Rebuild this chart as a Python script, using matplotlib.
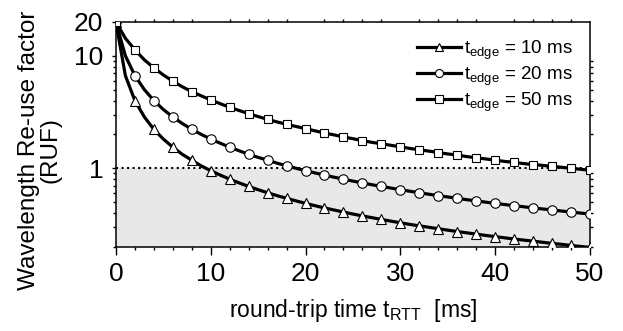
import numpy as np
import matplotlib as mpl; mpl.use('agg')
import matplotlib.pyplot as plt
from matplotlib.ticker import FixedLocator, FixedFormatter, NullFormatter

plt.rcParams['font.family'] = 'Liberation Sans'
plt.rcParams['mathtext.default'] = 'regular'

# round-trip time [ms], one value per ms (markers every 2 ms)
t_rtt = list(range(0, 51))

# RUF for each t_edge
ruf_10 = [20, 6.67, 4.0, 2.86, 2.22, 1.82, 1.54, 1.33, 1.18, 1.05,
          0.952, 0.870, 0.800, 0.741, 0.690, 0.645, 0.606, 0.571, 0.541, 0.513,
          0.488, 0.465, 0.444, 0.426, 0.408, 0.392, 0.377, 0.364, 0.351, 0.339,
          0.328, 0.317, 0.308, 0.299, 0.290, 0.282, 0.274, 0.267, 0.260, 0.253,
          0.247, 0.241, 0.235, 0.230, 0.225, 0.220, 0.215, 0.211, 0.206, 0.202,
          0.198]
ruf_20 = [20, 10, 6.67, 5.0, 4.0, 3.33, 2.86, 2.5, 2.22, 2.0,
          1.82, 1.67, 1.54, 1.43, 1.33, 1.25, 1.18, 1.11, 1.05, 1.0,
          0.952, 0.909, 0.870, 0.833, 0.800, 0.769, 0.741, 0.714, 0.690, 0.667,
          0.645, 0.625, 0.606, 0.588, 0.571, 0.556, 0.541, 0.526, 0.513, 0.500,
          0.488, 0.476, 0.465, 0.455, 0.444, 0.435, 0.426, 0.417, 0.408, 0.400,
          0.392]
ruf_50 = [20, 14.3, 11.3, 9.2, 7.8, 6.75, 5.95, 5.3, 4.8, 4.4,
          4.05, 3.75, 3.48, 3.26, 3.06, 2.88, 2.72, 2.58, 2.46, 2.35,
          2.25, 2.15, 2.06, 1.98, 1.90, 1.83, 1.76, 1.70, 1.65, 1.60,
          1.55, 1.50, 1.46, 1.42, 1.38, 1.34, 1.31, 1.27, 1.24, 1.21,
          1.18, 1.15, 1.13, 1.10, 1.08, 1.06, 1.04, 1.02, 1.00, 0.98,
          0.96]

series = [(ruf_10, '^', 7.5, '10'), (ruf_20, 'o', 6.8, '20'), (ruf_50, 's', 6.2, '50')]

fig = plt.figure(figsize=(6.23, 3.31), dpi=100)
ax = fig.add_axes([0.186, 0.254, 0.761, 0.68])

ax.axhspan(0.2, 1, color='#e8e8e8', zorder=0, lw=0)
ax.axhline(1, color='black', ls=':', lw=1.5, zorder=1)

for vals, mk, ms, lab in series:
    ax.plot(t_rtt, vals, color='black', lw=2.3, marker=mk, ms=ms, markevery=2,
            mfc='white', mec='black', mew=0.8, zorder=3,
            label=r'$t_{edge}$ = ' + lab + ' ms')

ax.set_yscale('log')
ax.set_xlim(0, 50)
ax.set_ylim(0.2, 20)

ax.yaxis.set_major_locator(FixedLocator([1, 10, 20]))
ax.yaxis.set_major_formatter(FixedFormatter(['1', '10', '20']))
ax.yaxis.set_minor_locator(FixedLocator([0.2, 0.3, 0.4, 0.5, 0.6, 0.7, 0.8, 0.9,
                                         2, 3, 4, 5, 6, 7, 8, 9]))
ax.yaxis.set_minor_formatter(NullFormatter())
ax.set_xticks([0, 10, 20, 30, 40, 50])
ax.set_xticks(np.arange(0, 51, 2), minor=True)

ax.tick_params(which='both', direction='out', labelsize=19, width=1)
ax.tick_params(axis='x', which='major', length=6, pad=5)
ax.tick_params(axis='y', which='major', length=3, pad=6)
ax.tick_params(which='minor', length=2, top=True, right=True)
for s in ax.spines.values():
    s.set_linewidth(1.1)

ax.set_xlabel(r'round-trip time $t_{RTT}$  [ms]', fontsize=16.5, labelpad=8)
ax.set_ylabel('Wavelength Re-use factor\n(RUF)', fontsize=17.5, linespacing=0.95)
ax.yaxis.set_label_coords(-0.115, 0.43)

ax.legend(loc='upper right', frameon=False, fontsize=13.5, handlelength=2.3,
          handletextpad=0.2, labelspacing=0.15, borderaxespad=0.5,
          markerscale=0.85)

plt.savefig('out.png')
